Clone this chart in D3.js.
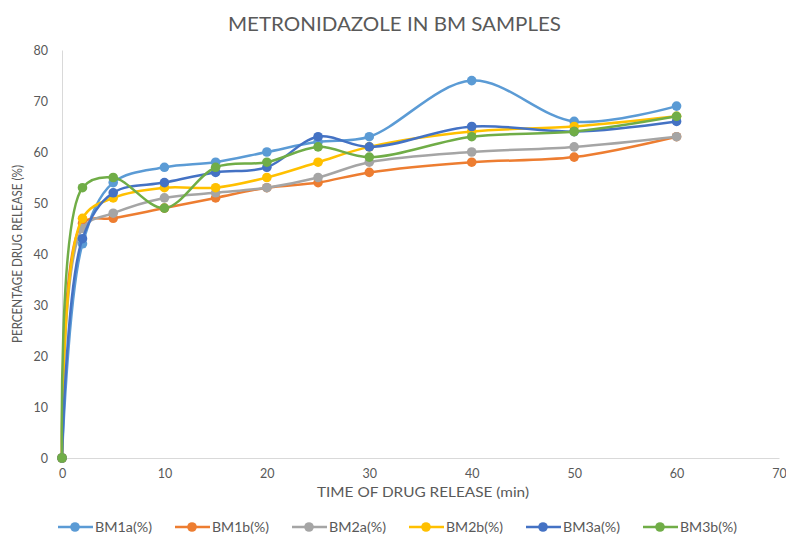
<!DOCTYPE html>
<html>
<head>
<meta charset="utf-8">
<script src="https://cdn.jsdelivr.net/npm/d3@7"></script>
<style>
  html, body { margin: 0; padding: 0; background: #fff; }
  svg { display: block; font-family: "Open Sans", Lato, "Liberation Sans", sans-serif; }
</style>
</head>
<body>
<svg id="chart" width="786" height="534"></svg>
<script>
// Sampling times (min)
const times = [0, 2, 5, 10, 15, 20, 25, 30, 40, 50, 60];

// Cumulative drug release (%) per sample
const bm1a = [0, 42, 54, 57, 58, 60, 62, 63, 74, 66, 69];
const bm1b = [0, 46, 47, 49, 51, 53, 54, 56, 58, 59, 63];
const bm2a = [0, 45, 48, 51, 52, 53, 55, 58, 60, 61, 63];
const bm2b = [0, 47, 51, 53, 53, 55, 58, 61, 64, 65, 67];
const bm3a = [0, 43, 52, 54, 56, 57, 63, 61, 65, 64, 66];
const bm3b = [0, 53, 55, 49, 57, 58, 61, 59, 63, 64, 67];

const seriesNames = ["BM1a(%)", "BM1b(%)", "BM2a(%)", "BM2b(%)", "BM3a(%)", "BM3b(%)"];
const seriesColors = ["#5B9BD5", "#ED7D31", "#A5A5A5", "#FFC000", "#4472C4", "#70AD47"];
const seriesValues = [bm1a, bm1b, bm2a, bm2b, bm3a, bm3b];

const xTicks = [0, 10, 20, 30, 40, 50, 60, 70];
const yTicks = [0, 10, 20, 30, 40, 50, 60, 70, 80];

const svg = d3.select("#chart");
const textColor = "#595959";
const axisColor = "#D9D9D9";
const fontStack = "Lato, 'Open Sans', sans-serif";

const x = d3.scaleLinear().domain([0, 70]).range([62, 779]);
const y = d3.scaleLinear().domain([0, 80]).range([458, 50]);

// Title
svg.append("text")
  .attr("x", 228).attr("y", 31)
  .attr("fill", textColor)
  .attr("font-size", 19)
  .attr("font-family", fontStack)
  .attr("textLength", 333)
  .attr("lengthAdjust", "spacingAndGlyphs")
  .text("METRONIDAZOLE IN BM SAMPLES");

// Y axis (line + labels, no tick marks)
const yAxis = svg.append("g").attr("transform", `translate(${x(0)},0)`)
  .call(d3.axisLeft(y).tickValues(yTicks).tickSize(0).tickPadding(14));
yAxis.select(".domain").attr("stroke", axisColor).attr("stroke-width", 1);
yAxis.selectAll("text").attr("fill", textColor).attr("font-size", 12.5)
  .attr("font-family", fontStack);

// X axis
const xAxis = svg.append("g").attr("transform", `translate(0,${y(0)})`)
  .call(d3.axisBottom(x).tickValues(xTicks).tickSize(0).tickPadding(11));
xAxis.select(".domain").attr("stroke", axisColor).attr("stroke-width", 1);
xAxis.selectAll("text").attr("fill", textColor).attr("font-size", 12.5)
  .attr("font-family", fontStack);

// Axis titles
svg.append("text")
  .attr("x", 317).attr("y", 497)
  .attr("fill", textColor)
  .attr("font-size", 13.5)
  .attr("font-family", fontStack)
  .attr("textLength", 212)
  .attr("lengthAdjust", "spacingAndGlyphs")
  .text("TIME OF DRUG RELEASE (min)");

svg.append("text")
  .attr("transform", "translate(22,343) rotate(-90)")
  .attr("fill", textColor)
  .attr("font-size", 13)
  .attr("font-family", fontStack)
  .attr("textLength", 178)
  .attr("lengthAdjust", "spacingAndGlyphs")
  .text("PERCENTAGE DRUG RELEASE (%)");

// Smoothed series lines with markers
const line = d3.line()
  .x((d, i) => x(times[i]))
  .y(d => y(d))
  .curve(d3.curveCatmullRom.alpha(0.5));

seriesValues.forEach((vals, k) => {
  const g = svg.append("g");
  g.append("path")
    .datum(vals)
    .attr("d", line)
    .attr("fill", "none")
    .attr("stroke", seriesColors[k])
    .attr("stroke-width", 2.5)
    .attr("stroke-linejoin", "round");
  g.selectAll("circle")
    .data(vals)
    .join("circle")
    .attr("cx", (d, i) => x(times[i]))
    .attr("cy", d => y(d))
    .attr("r", 4.8)
    .attr("fill", seriesColors[k]);
});

// Legend
const legendX = [58, 175, 292, 409, 526, 643];
const legend = svg.append("g").attr("transform", "translate(0,527)");
seriesNames.forEach((name, k) => {
  const g = legend.append("g").attr("transform", `translate(${legendX[k]},0)`);
  g.append("line").attr("x1", 0).attr("x2", 35).attr("y1", 0).attr("y2", 0)
    .attr("stroke", seriesColors[k]).attr("stroke-width", 2.5);
  g.append("circle").attr("cx", 17).attr("cy", 0).attr("r", 4.8).attr("fill", seriesColors[k]);
  g.append("text").attr("x", 37).attr("y", 4.5)
    .attr("fill", textColor).attr("font-size", 12.5)
    .attr("font-family", fontStack)
    .attr("textLength", 57)
    .attr("lengthAdjust", "spacingAndGlyphs")
    .text(name);
});
</script>
</body>
</html>
